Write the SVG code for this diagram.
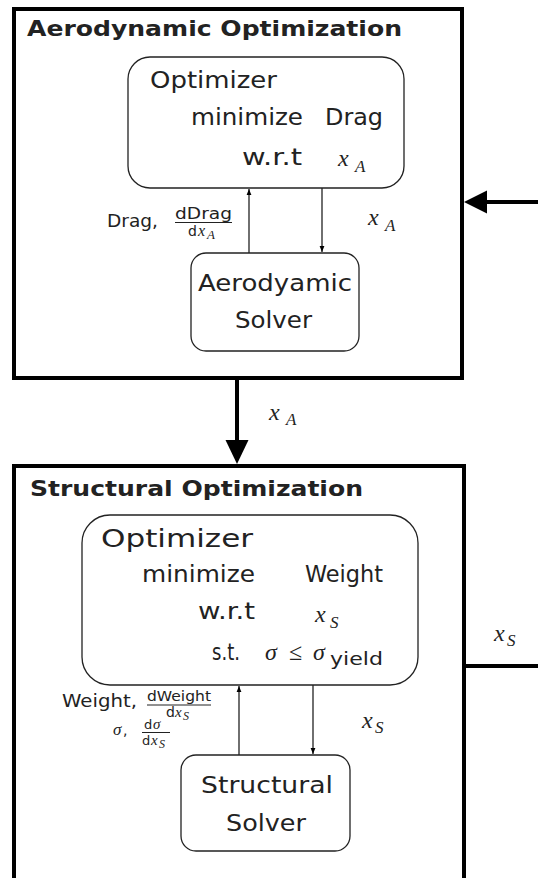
<svg xmlns="http://www.w3.org/2000/svg" width="538" height="878" viewBox="0 0 538 878">
<style>
.outer{fill:none;stroke:#000;stroke-width:4}
.inner{fill:#fff;stroke:#222;stroke-width:1.3}
.thick{stroke:#000;stroke-width:4;fill:none}
.thin{stroke:#222;stroke-width:1.3;fill:none}
.t{font-family:"DejaVu Sans",sans-serif;fill:#222}
.b{font-family:"DejaVu Sans",sans-serif;font-weight:bold;fill:#222;font-size:21px}
.m{font-family:"Liberation Serif",serif;font-style:italic;fill:#222}
.r{font-family:"Liberation Serif",serif;fill:#222}
</style>
<defs>
<marker id="ah" viewBox="0 0 10 10" refX="10" refY="5" markerWidth="6" markerHeight="7" markerUnits="userSpaceOnUse" orient="auto">
<path d="M0,1 L10,5 L0,9 Z" fill="#000"/>
</marker>
</defs>

<g id="aero-opt">
<rect class="outer" x="14" y="9" width="448" height="369"/>
<text class="b" x="27" y="36" textLength="375" lengthAdjust="spacingAndGlyphs">Aerodynamic Optimization</text>
</g>

<g id="aero-optimizer">
<rect class="inner" x="128" y="57" width="276" height="131" rx="22"/>
<text class="t" x="150" y="88" font-size="23" textLength="127" lengthAdjust="spacingAndGlyphs">Optimizer</text>
<text class="t" x="191" y="125" font-size="23" textLength="112" lengthAdjust="spacingAndGlyphs">minimize</text>
<text class="t" x="325" y="125" font-size="23" textLength="58" lengthAdjust="spacingAndGlyphs">Drag</text>
<text class="t" x="242" y="165" font-size="23" textLength="60" lengthAdjust="spacingAndGlyphs">w.r.t</text>
<text class="m" x="338" y="166" font-size="24">x</text>
<text class="m" x="355" y="172" font-size="17">A</text>
</g>

<g id="aero-solver">
<rect class="inner" x="191" y="253" width="168" height="98" rx="15"/>
<text class="t" x="198" y="291" font-size="23" textLength="154" lengthAdjust="spacingAndGlyphs">Aerodyamic</text>
<text class="t" x="235" y="328" font-size="23" textLength="77" lengthAdjust="spacingAndGlyphs">Solver</text>
</g>

<g id="struct-opt">
<rect class="outer" x="14" y="466" width="450" height="414"/>
<text class="b" x="30" y="496" textLength="333" lengthAdjust="spacingAndGlyphs">Structural Optimization</text>
</g>

<g id="struct-optimizer">
<rect class="inner" x="82" y="515" width="336" height="170" rx="28"/>
<text class="t" x="101" y="547" font-size="24" textLength="152" lengthAdjust="spacingAndGlyphs">Optimizer</text>
<text class="t" x="142" y="582" font-size="23" textLength="113" lengthAdjust="spacingAndGlyphs">minimize</text>
<text class="t" x="305" y="582" font-size="23" textLength="78" lengthAdjust="spacingAndGlyphs">Weight</text>
<text class="t" x="198" y="619" font-size="23" textLength="57" lengthAdjust="spacingAndGlyphs">w.r.t</text>
<text class="m" x="315" y="622" font-size="24">x</text>
<text class="m" x="330" y="628" font-size="17">S</text>
<text class="t" x="212" y="660" font-size="23" textLength="28" lengthAdjust="spacingAndGlyphs">s.t.</text>
<text class="m" x="265" y="660" font-size="24">σ</text>
<text class="r" x="289" y="660" font-size="24">≤</text>
<text class="m" x="313" y="660" font-size="24">σ</text>
<text class="t" x="330" y="665" font-size="17" textLength="53" lengthAdjust="spacingAndGlyphs">yield</text>
</g>

<g id="struct-solver">
<rect class="inner" x="181" y="755" width="169" height="96" rx="15"/>
<text class="t" x="201" y="793" font-size="23" textLength="132" lengthAdjust="spacingAndGlyphs">Structural</text>
<text class="t" x="226" y="831" font-size="23" textLength="80" lengthAdjust="spacingAndGlyphs">Solver</text>
</g>

<g id="connectors">
<line class="thick" x1="538" y1="202" x2="485" y2="202"/>
<polygon points="464,202 487,190.5 487,213.5" fill="#000"/>
<line class="thick" x1="237" y1="380" x2="237" y2="442"/>
<polygon points="237,464 225.5,440 248.5,440" fill="#000"/>
<line class="thick" x1="466" y1="666" x2="538" y2="666"/>

<line class="thin" x1="249" y1="253" x2="249" y2="189" marker-end="url(#ah)"/>
<line class="thin" x1="322" y1="188" x2="322" y2="252" marker-end="url(#ah)"/>
<line class="thin" x1="239" y1="755" x2="239" y2="686" marker-end="url(#ah)"/>
<line class="thin" x1="313" y1="685" x2="313" y2="754" marker-end="url(#ah)"/>

<text class="t" x="107" y="227" font-size="18" textLength="51" lengthAdjust="spacingAndGlyphs">Drag,</text>
<text class="t" x="175" y="219" font-size="15" textLength="57" lengthAdjust="spacingAndGlyphs">dDrag</text>
<line x1="175" y1="222.5" x2="232" y2="222.5" stroke="#222" stroke-width="1"/>
<text class="t" x="188" y="236" font-size="14">d</text>
<text class="m" x="198" y="236" font-size="16">x</text>
<text class="m" x="207" y="239" font-size="13">A</text>

<text class="m" x="368" y="225" font-size="24">x</text>
<text class="m" x="385" y="231" font-size="17">A</text>

<text class="m" x="269" y="420" font-size="24">x</text>
<text class="m" x="286" y="425" font-size="17">A</text>

<text class="m" x="494" y="641" font-size="24">x</text>
<text class="m" x="507" y="646" font-size="17">S</text>

<text class="t" x="62" y="707" font-size="17" textLength="75" lengthAdjust="spacingAndGlyphs">Weight,</text>
<text class="t" x="147" y="701" font-size="14" textLength="64" lengthAdjust="spacingAndGlyphs">dWeight</text>
<line x1="147" y1="705" x2="211" y2="705" stroke="#222" stroke-width="1"/>
<text class="t" x="166" y="717" font-size="14">d</text>
<text class="m" x="175" y="717" font-size="15">x</text>
<text class="m" x="183" y="720" font-size="12">S</text>

<text class="m" x="113" y="735" font-size="17">σ</text>
<text class="t" x="123" y="735" font-size="14">,</text>
<text class="t" x="144" y="729" font-size="13">d</text>
<text class="m" x="153" y="729" font-size="15">σ</text>
<line x1="142" y1="732.5" x2="170" y2="732.5" stroke="#222" stroke-width="1"/>
<text class="t" x="142" y="745" font-size="13">d</text>
<text class="m" x="151" y="745" font-size="15">x</text>
<text class="m" x="159" y="748" font-size="12">S</text>

<text class="m" x="362" y="728" font-size="24">x</text>
<text class="m" x="375" y="733" font-size="17">S</text>
</g>
</svg>
